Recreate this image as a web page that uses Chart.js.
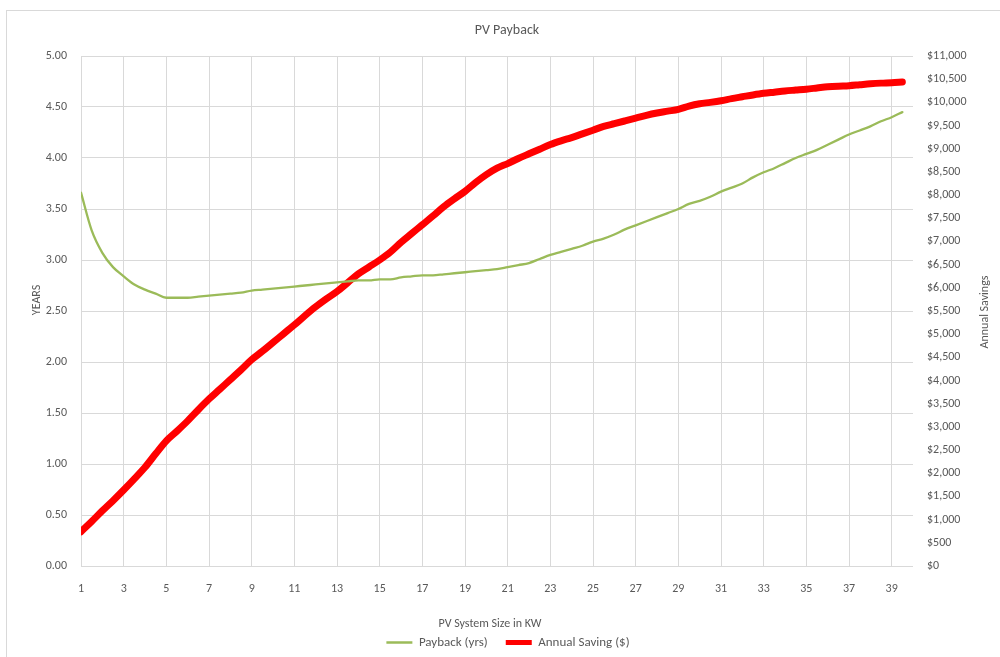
<!DOCTYPE html>
<html>
<head>
<meta charset="utf-8">
<script src="https://cdn.jsdelivr.net/npm/chart.js@4.4.1/dist/chart.umd.min.js"></script>
<style>
  html, body { margin: 0; padding: 0; background: #ffffff; }
  #wrap { width: 1000px; height: 657px; }
</style>
</head>
<body>
<div id="wrap"><canvas id="pv" width="1000" height="657"></canvas></div>
<script>
// System sizes (kW) along the horizontal axis
const sizesKW = [
  1, 1.5, 2, 2.5, 3, 3.5, 4, 4.5, 5, 5.5, 6, 6.5, 7, 7.5, 8, 8.5, 9, 9.5, 10, 10.5,
  11, 11.5, 12, 12.5, 13, 13.5, 14, 14.5, 15, 15.5, 16, 16.5, 17, 17.5, 18, 18.5, 19, 19.5, 20, 20.5,
  21, 21.5, 22, 22.5, 23, 23.5, 24, 24.5, 25, 25.5, 26, 26.5, 27, 27.5, 28, 28.5, 29, 29.5, 30, 30.5,
  31, 31.5, 32, 32.5, 33, 33.5, 34, 34.5, 35, 35.5, 36, 36.5, 37, 37.5, 38, 38.5, 39, 39.5
];

// Payback period in years
const paybackYears = [
  3.66, 3.29, 3.07, 2.93, 2.84, 2.76, 2.71, 2.67, 2.63, 2.63,
  2.63, 2.64, 2.65, 2.66, 2.67, 2.68, 2.70, 2.71, 2.72, 2.73,
  2.74, 2.75, 2.76, 2.77, 2.78, 2.79, 2.80, 2.80, 2.81, 2.81,
  2.83, 2.84, 2.85, 2.85, 2.86, 2.87, 2.88, 2.89, 2.90, 2.91,
  2.93, 2.95, 2.97, 3.01, 3.05, 3.08, 3.11, 3.14, 3.18, 3.21,
  3.25, 3.30, 3.34, 3.38, 3.42, 3.46, 3.50, 3.55, 3.58, 3.62,
  3.67, 3.71, 3.75, 3.81, 3.86, 3.90, 3.95, 4.00, 4.04, 4.08,
  4.13, 4.18, 4.23, 4.27, 4.31, 4.36, 4.40, 4.45
];

// Annual saving in dollars
const annualSaving = [
  740, 960, 1190, 1410, 1640, 1880, 2130, 2420, 2700, 2910,
  3130, 3370, 3600, 3810, 4020, 4230, 4450, 4630, 4820, 5010,
  5200, 5400, 5590, 5760, 5920, 6110, 6300, 6450, 6600, 6770,
  6980, 7170, 7360, 7550, 7750, 7920, 8080, 8270, 8440, 8580,
  8680, 8790, 8890, 8990, 9090, 9170, 9240, 9320, 9400, 9480,
  9540, 9600, 9660, 9720, 9770, 9810, 9850, 9920, 9970, 10000,
  10035, 10080, 10120, 10160, 10195, 10220, 10245, 10265, 10285, 10310,
  10335, 10350, 10360, 10380, 10400, 10415, 10425, 10440
];

// Labelled sizes on the horizontal axis
const xTickLabels = [1, 3, 5, 7, 9, 11, 13, 15, 17, 19, 21, 23, 25, 27, 29, 31, 33, 35, 37, 39];

const chartTitle = 'PV Payback';
const xAxisTitle = 'PV System Size in KW';
const leftAxisTitle = 'YEARS';
const rightAxisTitle = 'Annual Savings';

const FONT = 'Carlito, Calibri, Lato, sans-serif';
const TEXT = '#595959';
const GRID = '#d9d9d9';

Chart.defaults.font.family = FONT;
Chart.defaults.font.size = 12;
Chart.defaults.color = TEXT;

// Frame, chart title and axis titles
const decorations = {
  id: 'decorations',
  beforeDraw(chart) {
    const ctx = chart.ctx;
    ctx.save();
    ctx.fillStyle = '#ffffff';
    ctx.fillRect(0, 0, chart.width, chart.height);
    ctx.strokeStyle = GRID;
    ctx.lineWidth = 1;
    ctx.strokeRect(6.5, 10.5, chart.width + 20, chart.height + 20);
    ctx.restore();
  },
  afterDraw(chart) {
    const ctx = chart.ctx;
    const a = chart.chartArea;
    const midX = (a.left + a.right) / 2;
    ctx.save();
    ctx.fillStyle = TEXT;
    ctx.textAlign = 'center';
    ctx.textBaseline = 'middle';

    ctx.font = '14px ' + FONT;
    ctx.fillText(chartTitle, midX + 10, a.top - 26);

    ctx.font = '12px ' + FONT;
    ctx.fillText(xAxisTitle, midX - 7, a.bottom + 58);

    ctx.save();
    ctx.translate(a.left - 44, a.top + 244);
    ctx.rotate(-Math.PI / 2);
    ctx.fillText(leftAxisTitle, 0, 0);
    ctx.restore();

    ctx.save();
    ctx.translate(a.right + 72, a.top + 256);
    ctx.rotate(-Math.PI / 2);
    ctx.fillText(rightAxisTitle, 0, 0);
    ctx.restore();

    ctx.restore();
  },
  afterLayout(chart) {
    // nudge the legend row to the right of centre
    if (chart.legend) {
      chart.legend.left += 8;
      chart.legend.right += 8;
    }
  }
};

const toPoints = (ys) => sizesKW.map((x, i) => ({ x: x, y: ys[i] }));

new Chart(document.getElementById('pv'), {
  type: 'line',
  data: {
    datasets: [
      {
        label: 'Payback (yrs)',
        data: toPoints(paybackYears),
        yAxisID: 'yYears',
        borderColor: '#9bbb59',
        backgroundColor: '#9bbb59',
        borderWidth: 2.3,
        borderCapStyle: 'round',
        borderJoinStyle: 'round',
        pointRadius: 0,
        pointHoverRadius: 0,
        cubicInterpolationMode: 'monotone',
        fill: false
      },
      {
        label: 'Annual Saving ($)',
        data: toPoints(annualSaving),
        yAxisID: 'ySaving',
        borderColor: '#ff0000',
        backgroundColor: '#ff0000',
        borderWidth: 7,
        borderCapStyle: 'round',
        borderJoinStyle: 'round',
        pointRadius: 0,
        pointHoverRadius: 0,
        cubicInterpolationMode: 'monotone',
        fill: false
      }
    ]
  },
  options: {
    responsive: false,
    animation: false,
    devicePixelRatio: 1,
    layout: { padding: { top: 56, left: 0, right: 0, bottom: -2 } },
    plugins: {
      title: { display: false },
      tooltip: { enabled: false },
      legend: {
        display: true,
        position: 'bottom',
        align: 'center',
        labels: {
          usePointStyle: true,
          pointStyle: 'line',
          pointStyleWidth: 26,
          boxHeight: 13,
          padding: 18,
          color: TEXT,
          font: { size: 13, family: FONT },
          generateLabels(chart) {
            const items = Chart.defaults.plugins.legend.labels.generateLabels(chart);
            items.forEach((it) => {
              it.pointStyle = 'line';
              if (it.datasetIndex === 1) it.lineWidth = 5;
              if (it.datasetIndex === 0) it.lineWidth = 2.5;
            });
            return items;
          }
        }
      }
    },
    scales: {
      x: {
        type: 'linear',
        position: 'bottom',
        min: 1,
        max: 40,
        afterBuildTicks(scale) {
          scale.ticks = xTickLabels.map((v) => ({ value: v }));
        },
        afterFit(scale) { scale.height = 52; },
        ticks: {
          autoSkip: false,
          maxRotation: 0,
          minRotation: 0,
          padding: 16,
          color: TEXT,
          callback: (v) => String(v)
        },
        grid: { display: true, color: GRID, lineWidth: 1, drawTicks: false },
        border: { display: false },
        title: { display: false }
      },
      yYears: {
        type: 'linear',
        position: 'left',
        min: 0,
        max: 5,
        afterFit(scale) { scale.width = 81; },
        ticks: {
          stepSize: 0.5,
          autoSkip: false,
          padding: 14,
          color: TEXT,
          callback: (v) => Number(v).toFixed(2)
        },
        grid: { display: true, color: GRID, lineWidth: 1, drawTicks: false },
        border: { display: false },
        title: { display: false }
      },
      ySaving: {
        type: 'linear',
        position: 'right',
        min: 0,
        max: 11000,
        afterFit(scale) { scale.width = 87; },
        ticks: {
          stepSize: 500,
          autoSkip: false,
          padding: 14,
          color: TEXT,
          callback: (v) => '$' + Number(v).toLocaleString('en-US')
        },
        grid: { display: false, drawTicks: false },
        border: { display: false },
        title: { display: false }
      }
    }
  },
  plugins: [decorations]
});
</script>
</body>
</html>
